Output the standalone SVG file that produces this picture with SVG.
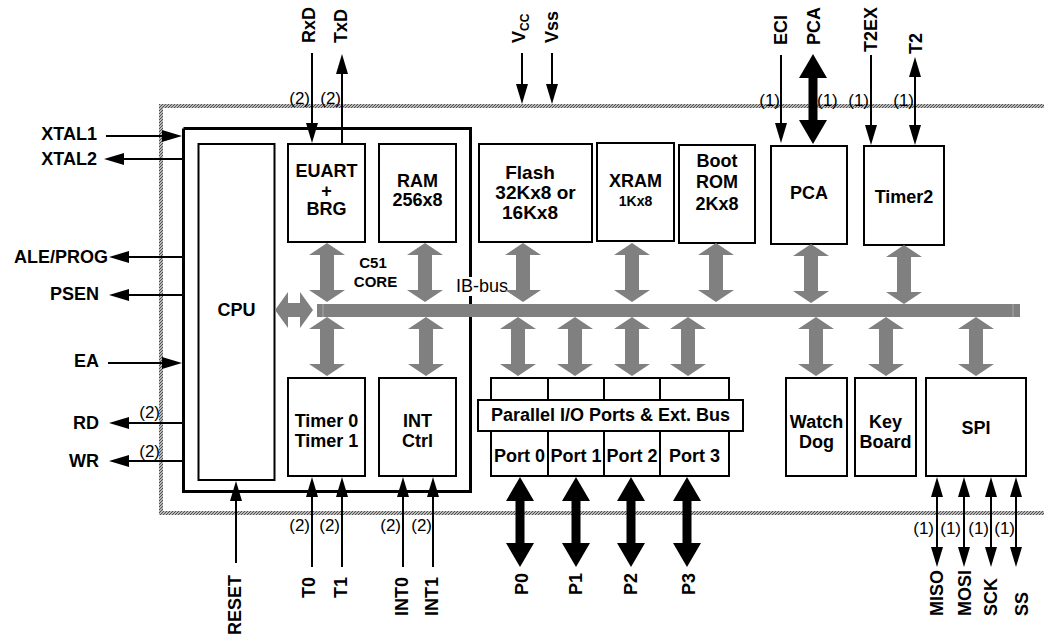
<svg xmlns="http://www.w3.org/2000/svg" xmlns:xlink="http://www.w3.org/1999/xlink" width="1044" height="636" viewBox="0 0 1044 636">
<style>
text{font-family:"Liberation Sans",Arial,sans-serif;fill:#000}
.b{font-weight:bold;font-size:18px}
.bs{font-weight:bold;font-size:18px}
.n{font-size:17px}
.box{fill:#fff;stroke:#000;stroke-width:2}
.ln{stroke:#000;stroke-width:2;fill:none}
.ga{fill:#808080}
.ba{fill:#000}
</style>
<defs>
<pattern id="hatch" patternUnits="userSpaceOnUse" width="3" height="3">
<rect width="3" height="3" fill="#b8b8b8"/>
<path d="M0,3 L3,0" stroke="#505050" stroke-width="1"/>
</pattern>
<marker id="ah" viewBox="0 0 20 12" refX="12" refY="6" markerWidth="20" markerHeight="12" markerUnits="userSpaceOnUse" orient="auto-start-reverse">
<path d="M0,0 L20,6 L0,12 Z" fill="#000"/>
</marker>
<path id="garr" d="M0,0 L18,12 L7,12 L7,47 L18,47 L0,59 L-18,47 L-7,47 L-7,12 L-18,12 Z"/>
<path id="barr" d="M0,0 L14,24 L4.5,24 L4.5,66 L14,66 L0,90 L-14,66 L-4.5,66 L-4.5,24 L-14,24 Z"/>
</defs>
<rect width="1044" height="636" fill="#fff"/>

<g id="chip">
<rect x="161" y="106" width="1000" height="407" fill="none" stroke="url(#hatch)" stroke-width="4"/>
</g>

<g id="core">
<path d="M183.5,128.5 H470.5 V277 M470.5,296 V491.5 H183.5 V128.5" fill="none" stroke="#000" stroke-width="3"/>
<text class="b" x="373" y="268" text-anchor="middle" style="font-size:15px">C51</text>
<text class="b" x="375.5" y="287" text-anchor="middle" style="font-size:15px">CORE</text>
</g>

<g id="cpu">
<rect class="box" x="198.5" y="144" width="76" height="336"/>
<text class="b" x="236.5" y="316" text-anchor="middle">CPU</text>
</g>
<g id="euart">
<rect class="box" x="288" y="144" width="77" height="98"/>
<text class="b" x="326.5" y="177" text-anchor="middle">EUART</text>
<text class="b" x="326.5" y="197" text-anchor="middle">+</text>
<text class="b" x="326.5" y="215" text-anchor="middle">BRG</text>
</g>
<g id="ram">
<rect class="box" x="379" y="144" width="77" height="98"/>
<text class="b" x="417.5" y="187" text-anchor="middle">RAM</text>
<text class="b" x="417.5" y="206" text-anchor="middle">256x8</text>
</g>
<g id="flash">
<rect class="box" x="479" y="144" width="113" height="98"/>
<text class="b" x="530" y="179" text-anchor="middle" style="font-size:19px">Flash</text>
<text class="b" x="535.5" y="199" text-anchor="middle" style="font-size:19px">32Kx8 or</text>
<text class="b" x="530" y="219" text-anchor="middle" style="font-size:19px">16Kx8</text>
</g>
<g id="xram">
<rect class="box" x="597" y="143" width="77" height="98"/>
<text class="b" x="635.5" y="187" text-anchor="middle">XRAM</text>
<text class="b" x="635.5" y="206" text-anchor="middle" style="font-size:14px">1Kx8</text>
</g>
<g id="bootrom">
<rect class="box" x="679" y="145" width="76" height="98"/>
<text class="b" x="717" y="167" text-anchor="middle">Boot</text>
<text class="b" x="717" y="188" text-anchor="middle">ROM</text>
<text class="b" x="717" y="210" text-anchor="middle">2Kx8</text>
</g>
<g id="pca">
<rect class="box" x="771" y="146" width="76" height="98"/>
<text class="b" x="809" y="199" text-anchor="middle">PCA</text>
</g>
<g id="timer2">
<rect class="box" x="864" y="146" width="80" height="99"/>
<text class="b" x="904" y="203" text-anchor="middle">Timer2</text>
</g>
<g id="timer01">
<rect class="box" x="288" y="378" width="77" height="98"/>
<text class="b" x="326.5" y="427" text-anchor="middle">Timer 0</text>
<text class="b" x="326.5" y="447" text-anchor="middle">Timer 1</text>
</g>
<g id="intctrl">
<rect class="box" x="379" y="378" width="77" height="98"/>
<text class="b" x="417.5" y="427" text-anchor="middle">INT</text>
<text class="b" x="417.5" y="447" text-anchor="middle">Ctrl</text>
</g>
<g id="ports">
<rect class="box" x="491" y="378" width="238" height="98"/>
<line class="ln" x1="548" y1="378" x2="548" y2="476"/>
<line class="ln" x1="604" y1="378" x2="604" y2="476"/>
<line class="ln" x1="660" y1="378" x2="660" y2="476"/>
<rect class="box" x="478" y="400" width="265" height="31"/>
<text class="b" x="610.5" y="421" text-anchor="middle">Parallel I/O Ports &amp; Ext. Bus</text>
<text class="b" x="519.5" y="462" text-anchor="middle">Port 0</text>
<text class="b" x="576" y="462" text-anchor="middle">Port 1</text>
<text class="b" x="632" y="462" text-anchor="middle">Port 2</text>
<text class="b" x="694.5" y="462" text-anchor="middle">Port 3</text>
</g>
<g id="watchdog">
<rect class="box" x="786" y="378" width="61" height="98"/>
<text class="b" x="816.5" y="428" text-anchor="middle">Watch</text>
<text class="b" x="816.5" y="448" text-anchor="middle">Dog</text>
</g>
<g id="keyboard">
<rect class="box" x="855" y="378" width="61" height="98"/>
<text class="b" x="885.5" y="428" text-anchor="middle">Key</text>
<text class="b" x="885.5" y="448" text-anchor="middle">Board</text>
</g>
<g id="spi">
<rect class="box" x="926" y="378" width="100" height="98"/>
<text class="b" x="976" y="434" text-anchor="middle">SPI</text>
</g>

<g id="ibbus">
<rect x="317" y="304" width="703" height="13" fill="#808080"/>
<line x1="323" y1="304" x2="323" y2="317" stroke="#a8a8a8" stroke-width="1"/>
<line x1="1013" y1="304" x2="1013" y2="317" stroke="#a8a8a8" stroke-width="1"/>
<text x="456" y="292" style="font-size:18px">IB-bus</text>
</g>

<g id="connectors">
<g class="ga">
<use xlink:href="#garr" x="327" y="243"/>
<use xlink:href="#garr" x="425" y="243"/>
<use xlink:href="#garr" x="523" y="243"/>
<use xlink:href="#garr" x="632" y="243"/>
<use xlink:href="#garr" x="716" y="243"/>
<use xlink:href="#garr" x="811" y="244"/>
<use xlink:href="#garr" x="904" y="245"/>
<use xlink:href="#garr" x="327" y="317"/>
<use xlink:href="#garr" x="426" y="317"/>
<use xlink:href="#garr" x="518" y="317"/>
<use xlink:href="#garr" x="575" y="317"/>
<use xlink:href="#garr" x="632" y="317"/>
<use xlink:href="#garr" x="688" y="317"/>
<use xlink:href="#garr" x="816" y="317"/>
<use xlink:href="#garr" x="886" y="317"/>
<use xlink:href="#garr" x="976" y="317"/>
<path d="M275,310 L288,292 L288,303 L300,303 L300,292 L313,310 L300,328 L300,317 L288,317 L288,328 Z"/>
</g>
<g class="ba">
<use xlink:href="#barr" x="813" y="54"/>
<use xlink:href="#barr" x="520" y="477"/>
<use xlink:href="#barr" x="576" y="477"/>
<use xlink:href="#barr" x="631" y="477"/>
<use xlink:href="#barr" x="687" y="477"/>
</g>
<g class="ln">
<line x1="106" y1="136" x2="174" y2="136" marker-end="url(#ah)"/>
<line x1="182" y1="159" x2="112" y2="159" marker-end="url(#ah)"/>
<line x1="183" y1="257" x2="117" y2="257" marker-end="url(#ah)"/>
<line x1="183" y1="295" x2="117" y2="295" marker-end="url(#ah)"/>
<line x1="108" y1="363" x2="174" y2="363" marker-end="url(#ah)"/>
<line x1="183" y1="423" x2="117" y2="423" marker-end="url(#ah)"/>
<line x1="183" y1="461" x2="117" y2="461" marker-end="url(#ah)"/>
<line x1="312" y1="53" x2="312" y2="135" marker-end="url(#ah)"/>
<line x1="342" y1="144" x2="342" y2="62" marker-end="url(#ah)"/>
<line x1="522" y1="53" x2="522" y2="96" marker-end="url(#ah)"/>
<line x1="552" y1="53" x2="552" y2="96" marker-end="url(#ah)"/>
<line x1="781" y1="55" x2="781" y2="135" marker-end="url(#ah)"/>
<line x1="871" y1="55" x2="871" y2="137" marker-end="url(#ah)"/>
<line x1="915" y1="65" x2="915" y2="137" marker-start="url(#ah)" marker-end="url(#ah)"/>
<line x1="236" y1="563" x2="236" y2="489" marker-end="url(#ah)"/>
<line x1="312" y1="567" x2="312" y2="485" marker-end="url(#ah)"/>
<line x1="342" y1="567" x2="342" y2="485" marker-end="url(#ah)"/>
<line x1="403" y1="567" x2="403" y2="485" marker-end="url(#ah)"/>
<line x1="433" y1="567" x2="433" y2="485" marker-end="url(#ah)"/>
<line x1="937" y1="485" x2="937" y2="559" marker-start="url(#ah)" marker-end="url(#ah)"/>
<line x1="964" y1="485" x2="964" y2="559" marker-start="url(#ah)" marker-end="url(#ah)"/>
<line x1="991" y1="485" x2="991" y2="559" marker-start="url(#ah)" marker-end="url(#ah)"/>
<line x1="1016" y1="485" x2="1016" y2="559" marker-start="url(#ah)" marker-end="url(#ah)"/>
</g>
</g>

<g id="pins-left">
<text class="bs" x="97" y="140" text-anchor="end">XTAL1</text>
<text class="bs" x="97" y="165" text-anchor="end">XTAL2</text>
<text class="bs" x="108" y="263" text-anchor="end">ALE/PROG</text>
<text class="bs" x="99" y="300" text-anchor="end">PSEN</text>
<text class="bs" x="99" y="367" text-anchor="end">EA</text>
<text class="bs" x="99" y="429" text-anchor="end">RD</text>
<text class="bs" x="99" y="467" text-anchor="end">WR</text>
<text class="n" x="160" y="418" text-anchor="end">(2)</text>
<text class="n" x="160" y="457" text-anchor="end">(2)</text>
</g>
<g id="pins-top">
<text class="bs" transform="translate(315,43) rotate(-90)">RxD</text>
<text class="bs" transform="translate(347,43) rotate(-90)">TxD</text>
<text class="bs" transform="translate(525,43) rotate(-90)">V<tspan dy="4" style="font-size:12px">CC</tspan></text>
<text class="bs" transform="translate(558,43) rotate(-90)">Vss</text>
<text class="bs" transform="translate(787,45) rotate(-90)">ECI</text>
<text class="bs" transform="translate(820,45) rotate(-90)">PCA</text>
<text class="bs" transform="translate(877,52) rotate(-90)">T2EX</text>
<text class="bs" transform="translate(922,54) rotate(-90)">T2</text>
<text class="n" x="310" y="104" text-anchor="end">(2)</text>
<text class="n" x="341" y="104" text-anchor="end">(2)</text>
<text class="n" x="780" y="106" text-anchor="end">(1)</text>
<text class="n" x="817" y="106">(1)</text>
<text class="n" x="869" y="106" text-anchor="end">(1)</text>
<text class="n" x="914" y="106" text-anchor="end">(1)</text>
</g>
<g id="pins-bottom">
<text class="bs" transform="translate(241,575) rotate(-90)" text-anchor="end">RESET</text>
<text class="bs" transform="translate(315,577) rotate(-90)" text-anchor="end">T0</text>
<text class="bs" transform="translate(347,577) rotate(-90)" text-anchor="end">T1</text>
<text class="bs" transform="translate(408,577) rotate(-90)" text-anchor="end">INT0</text>
<text class="bs" transform="translate(438,577) rotate(-90)" text-anchor="end">INT1</text>
<text class="bs" transform="translate(528,573) rotate(-90)" text-anchor="end">P0</text>
<text class="bs" transform="translate(582,573) rotate(-90)" text-anchor="end">P1</text>
<text class="bs" transform="translate(637,573) rotate(-90)" text-anchor="end">P2</text>
<text class="bs" transform="translate(695,573) rotate(-90)" text-anchor="end">P3</text>
<text class="bs" transform="translate(943,616) rotate(-90)">MISO</text>
<text class="bs" transform="translate(971,616) rotate(-90)">MOSI</text>
<text class="bs" transform="translate(997,616) rotate(-90)">SCK</text>
<text class="bs" transform="translate(1028,616) rotate(-90)">SS</text>
<text class="n" x="310" y="531" text-anchor="end">(2)</text>
<text class="n" x="340" y="531" text-anchor="end">(2)</text>
<text class="n" x="401" y="531" text-anchor="end">(2)</text>
<text class="n" x="432" y="531" text-anchor="end">(2)</text>
<text class="n" x="934" y="534" text-anchor="end">(1)</text>
<text class="n" x="961" y="534" text-anchor="end">(1)</text>
<text class="n" x="989" y="534" text-anchor="end">(1)</text>
<text class="n" x="1015" y="534" text-anchor="end">(1)</text>
</g>
</svg>
